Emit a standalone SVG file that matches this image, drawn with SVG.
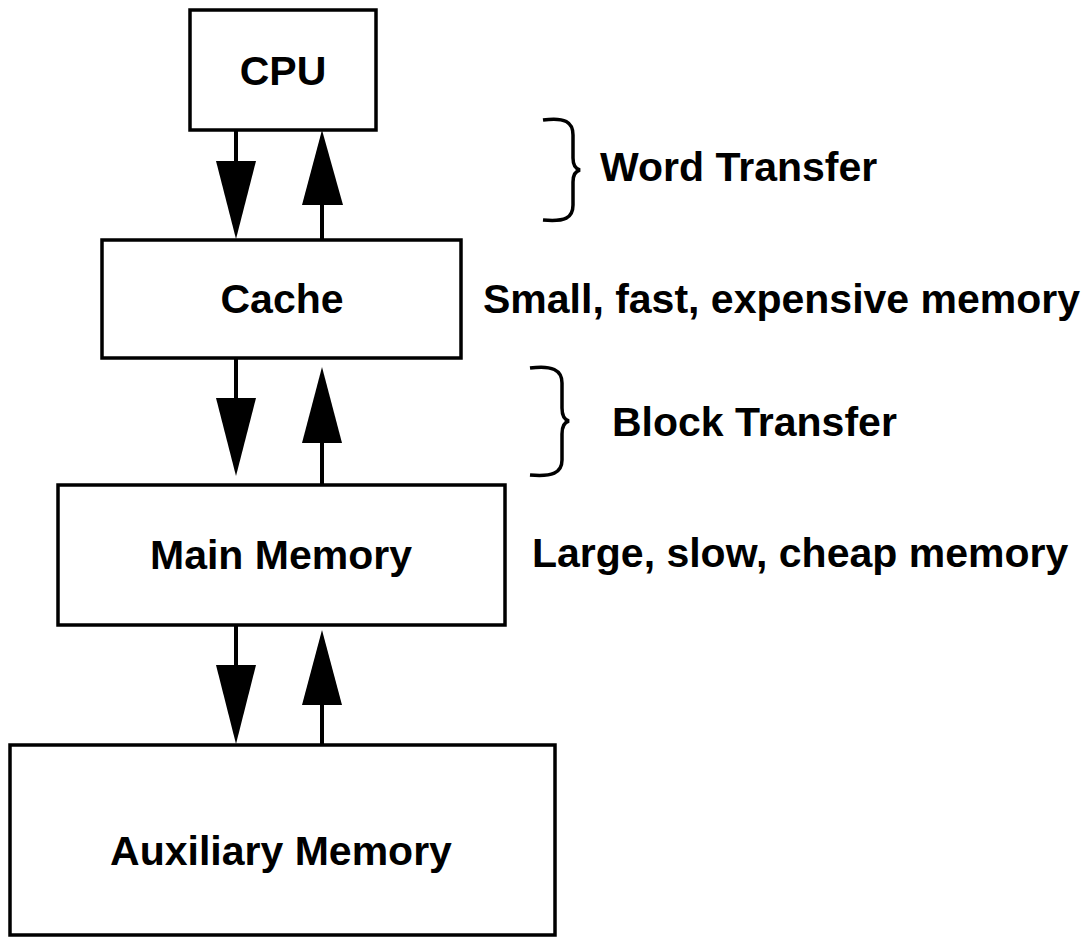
<svg xmlns="http://www.w3.org/2000/svg" width="1091" height="942" viewBox="0 0 1091 942">
<style>
.box{fill:#fff;stroke:#000;stroke-width:3.5}
.t{font-family:"Liberation Sans",Arial,sans-serif;font-weight:bold;font-size:41px;fill:#000}
.c{text-anchor:middle}
.ln{stroke:#000;stroke-width:4;fill:none}
.br{stroke:#000;stroke-width:3.5;fill:none}
</style>
<rect width="1091" height="942" fill="#fff"/>
<g id="connectors">
<line class="ln" x1="236" y1="130" x2="236" y2="165"/>
<polygon points="216,161 256,161 236,239"/>
<line class="ln" x1="322" y1="200" x2="322" y2="240"/>
<polygon points="322,130 343,205 302,205"/>
<line class="ln" x1="236" y1="358" x2="236" y2="402"/>
<polygon points="216,398 256,398 236,476"/>
<line class="ln" x1="322" y1="438" x2="322" y2="485"/>
<polygon points="322,367 342,443 302,443"/>
<line class="ln" x1="236" y1="625" x2="236" y2="669"/>
<polygon points="216,665 256,665 236,744"/>
<line class="ln" x1="322" y1="700" x2="322" y2="745"/>
<polygon points="322,630 342,705 302,705"/>
</g>
<g id="cpu"><rect class="box" x="190" y="10" width="186" height="120"/><text class="t c" x="283" y="85">CPU</text></g>
<g id="cache"><rect class="box" x="102" y="240" width="359" height="118"/><text class="t c" x="282" y="313">Cache</text></g>
<g id="main"><rect class="box" x="58" y="485" width="447" height="140"/><text class="t c" x="281" y="569">Main Memory</text></g>
<g id="aux"><rect class="box" x="10" y="745" width="545" height="190"/><text class="t c" x="281" y="865">Auxiliary Memory</text></g>
<g id="brace-word">
<path class="br" d="M543,120 C565,117 573,122 573,135 L573,158 C573,166 576,169 580,170 C576,171 573,174 573,182 L573,205 C573,218 565,222 543,220"/>
<text class="t" x="600" y="181">Word Transfer</text>
</g>
<g id="brace-block">
<path class="br" d="M530,368 C552,365 562,370 562,383 L562,408 C562,416 565,420 569,421 C565,422 562,426 562,434 L562,460 C562,473 552,477 530,475"/>
<text class="t" x="612" y="436">Block Transfer</text>
</g>
<text class="t" x="483" y="313">Small, fast, expensive memory</text>
<text class="t" x="532" y="567">Large, slow, cheap memory</text>
</svg>
